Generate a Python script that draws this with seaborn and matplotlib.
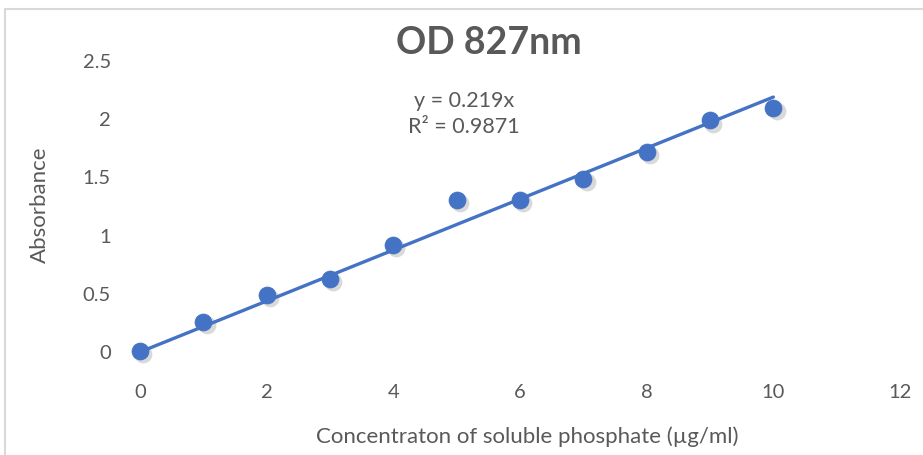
import numpy as np
import pandas as pd
import matplotlib
matplotlib.use("Agg")
import matplotlib.pyplot as plt
import seaborn as sns
from matplotlib.patches import Rectangle

concentration = [0, 1, 2, 3, 4, 5, 6, 7, 8, 9, 10]
absorbance = [0.01, 0.26, 0.49, 0.63, 0.92, 1.31, 1.31, 1.49, 1.72, 1.99, 2.10]
x_ticks = [0, 2, 4, 6, 8, 10, 12]
y_ticks = [0, 0.5, 1, 1.5, 2, 2.5]
y_tick_labels = ["0", "0.5", "1", "1.5", "2", "2.5"]
equation_label = "y = 0.219x"
r2_label = "R² = 0.9871"

sns.set_style("white")
plt.rcParams["font.family"] = ["Lato", "DejaVu Sans"]

df = pd.DataFrame({"x": concentration, "y": absorbance})
xs = np.array(concentration, dtype=float)
ys = np.array(absorbance, dtype=float)
slope = (xs * ys).sum() / (xs * xs).sum()
trend = pd.DataFrame({"x": [xs.min(), xs.max()], "y": [slope * xs.min(), slope * xs.max()]})

fig = plt.figure(figsize=(9.23, 4.55), dpi=100)
ax = fig.add_axes([140 / 923, 1 - 352 / 455, 760 / 923, 291 / 455])

blue = "#4472C4"
text_col = "#595959"

# chart area border
fig.patches.append(Rectangle((5 / 923, -0.1), 1.2, 1 - 9 / 455 + 0.1, transform=fig.transFigure,
                             fill=False, edgecolor="#D9D9D9", linewidth=1.5, zorder=0))

# marker shadow
ax.scatter(df["x"] + 0.05, df["y"] - 0.028, s=165, color="#000000", alpha=0.15,
           linewidths=0, zorder=2, clip_on=False)
sns.lineplot(data=trend, x="x", y="y", ax=ax, color=blue, linewidth=2.4, zorder=3)
sns.scatterplot(data=df, x="x", y="y", ax=ax, color=blue, s=150, edgecolor=blue,
                linewidth=0.5, zorder=4, clip_on=False)

ax.set_xlim(0, 12)
ax.set_ylim(0, 2.5)
ax.set_xticks(x_ticks)
ax.set_yticks(y_ticks)
ax.set_yticklabels(y_tick_labels)
for s in ax.spines.values():
    s.set_visible(False)
ax.tick_params(axis="both", length=0, labelsize=14.5, colors=text_col)
ax.tick_params(axis="y", pad=21)
ax.tick_params(axis="x", pad=23)
ax.set_xlabel("")
ax.set_ylabel("")
ax.patch.set_alpha(0)
ax.grid(False)

fig.text(489 / 923, 1 - 43 / 455, "OD 827nm", ha="center", va="center", fontsize=27,
         fontweight="bold", color=text_col)
fig.text(527 / 923, 1 - 437 / 455, "Concentraton of soluble phosphate (µg/ml)", ha="center",
         va="center", fontsize=16, color=text_col)
fig.text(40 / 923, 1 - 205 / 455, "Absorbance", ha="center", va="center", rotation=90,
         fontsize=16, color=text_col)
fig.text(464 / 923, 1 - 101 / 455, equation_label, ha="center", va="center",
         fontsize=15.5, color=text_col)
fig.text(464 / 923, 1 - 127 / 455, r2_label, ha="center", va="center",
         fontsize=15.5, color=text_col)

fig.savefig("out.png", dpi=100)
